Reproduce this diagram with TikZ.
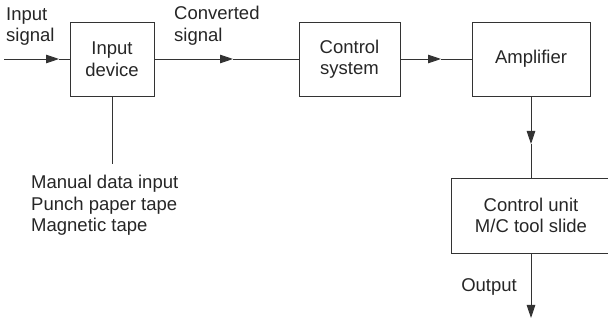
\documentclass[tikz,border=0pt]{standalone}
\usepackage{fontspec}
\setmainfont{Liberation Sans}
\usetikzlibrary{arrows.meta}
\begin{document}
\begin{tikzpicture}[x=1pt,y=-1pt,
  every node/.style={font=\fontsize{18.5}{21.5}\selectfont, text=black!85, inner sep=0pt},
  blk/.style={draw=black!80, line width=0.9pt, minimum height=74pt, align=center},
  wire/.style={draw=black!80, line width=0.9pt},
  tip/.style={wire, -{Triangle[length=13pt,width=8.5pt]}},
  lbl/.style={align=left, anchor=west}]
\useasboundingbox (0,0) rectangle (608,320);
\clip (0,0) rectangle (608,320);
% blocks
\node[blk, minimum width=84pt] (indev) at (112,59) {Input\\device};
\node[blk, minimum width=101pt] (ctrl) at (349.5,59) {Control\\system};
\node[blk, minimum width=118pt] (amp) at (531,59) {Amplifier};
\node[blk, minimum width=160pt, minimum height=75pt] (cu) at (531,215.5) {Control unit\\M/C tool slide};
% coordinates
\coordinate (src) at (4,59);
\coordinate (t1) at (59,59);
\coordinate (t2) at (233,59);
\coordinate (t3) at (441,59);
\coordinate (t4) at (531,144);
\coordinate (out) at (531,318);
\coordinate (dn) at (112,164);
% connectors
\draw[tip] (src) -- (t1);
\draw[wire] (t1) -- (indev.west);
\draw[tip] (indev.east) -- (t2);
\draw[wire] (t2) -- (ctrl.west);
\draw[tip] (ctrl.east) -- (t3);
\draw[wire] (t3) -- (amp.west);
\draw[tip] (amp.south) -- (t4);
\draw[wire] (t4) -- (cu.north);
\draw[tip] (cu.south) -- (out);
\draw[wire] (indev.south) -- (dn);
% labels
\node[lbl] (insig) at (6,26.5) {Input\\signal};
\node[lbl] (convsig) at (174,25.5) {Converted\\signal};
\node[anchor=east] (outl) at (517,287) {Output};
\node[lbl] (media) at (31,205.5) {Manual data input\\Punch paper tape\\Magnetic tape};
\end{tikzpicture}
\end{document}
